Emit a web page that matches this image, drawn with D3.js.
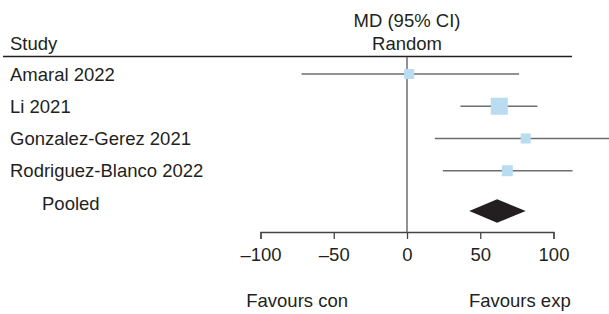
<!DOCTYPE html>
<html>
<head>
<meta charset="utf-8">
<script src="https://cdn.jsdelivr.net/npm/d3@7"></script>
<style>
  html, body { margin: 0; padding: 0; background: #fff; }
  svg { display: block; font-family: "Liberation Sans", Arial, sans-serif; }
</style>
</head>
<body>
<svg id="chart" width="609" height="314"></svg>
<script>
// ---- data ----
const studies = ["Amaral 2022", "Li 2021", "Gonzalez-Gerez 2021", "Rodriguez-Blanco 2022"];
const md      = [1.5, 63, 81, 68.5];
const ciLow   = [-72, 36.5, 19, 24.5];
const ciHigh  = [76.5, 89, 143, 113];
const weights = [10, 17, 10, 11];
const pooledLabel = "Pooled";
const pooled  = [61.5, 42.5, 81];   // estimate, low, high
const tickValues = [-100, -50, 0, 50, 100];
const tickLabels = ["\u2013100", "\u201350", "0", "50", "100"];
const favourLabels = ["Favours con", "Favours exp"];
const favourPos = [-75, 77];

// ---- layout ----
const svg = d3.select("#chart");
const ink = "#231f20";
const grey = "#6d6e71";
const fs = 18.5;

const x = d3.scaleLinear().domain([-100, 100]).range([260.5, 553.5]);
const rows = studies.concat([pooledLabel]);
const y = d3.scalePoint().domain(rows).range([74, 203]);
const sq = d3.scaleLinear().domain([0, 17]).range([0, 17]);

// header
svg.append("text").attr("x", 10).attr("y", 50).attr("font-size", fs).attr("fill", ink).text("Study");
svg.append("text").attr("x", x(0)).attr("y", 27).attr("text-anchor", "middle").attr("font-size", fs).attr("fill", ink).text("MD (95% CI)");
svg.append("text").attr("x", x(0)).attr("y", 50).attr("text-anchor", "middle").attr("font-size", fs).attr("fill", ink).text("Random");
svg.append("line").attr("x1", 3).attr("x2", 572).attr("y1", 56.5).attr("y2", 56.5).attr("stroke", ink).attr("stroke-width", 1.4);

// axis
const axisY = 232;
const axis = svg.append("g").attr("transform", `translate(0,${axisY})`)
  .call(d3.axisBottom(x).tickValues(tickValues).tickSize(7).tickPadding(9)
        .tickFormat((d, i) => tickLabels[i]));
axis.select(".domain").attr("stroke", "#444").attr("stroke-width", 1.3);
axis.selectAll(".tick line").attr("stroke", "#444").attr("stroke-width", 1.3);
axis.selectAll(".tick text").attr("font-size", fs).attr("fill", ink).attr("font-family", "Liberation Sans, Arial, sans-serif");

// zero line
svg.append("line").attr("x1", x(0)).attr("x2", x(0)).attr("y1", 57).attr("y2", axisY)
  .attr("stroke", grey).attr("stroke-width", 1.5);

// study labels
svg.selectAll("text.study").data(studies).enter().append("text")
  .attr("class", "study").attr("x", 10).attr("y", d => y(d) + 6.5)
  .attr("font-size", fs).attr("fill", ink).text(d => d);
svg.append("text").attr("x", 42).attr("y", y(pooledLabel) + 6.5)
  .attr("font-size", fs).attr("fill", ink).text(pooledLabel);

// CI lines
svg.selectAll("line.ci").data(studies).enter().append("line")
  .attr("class", "ci")
  .attr("x1", (d, i) => x(ciLow[i])).attr("x2", (d, i) => x(ciHigh[i]))
  .attr("y1", d => y(d)).attr("y2", d => y(d))
  .attr("stroke", grey).attr("stroke-width", 1.6);

// squares
svg.selectAll("rect.pt").data(studies).enter().append("rect")
  .attr("class", "pt")
  .attr("x", (d, i) => x(md[i]) - sq(weights[i]) / 2)
  .attr("y", (d, i) => y(d) - sq(weights[i]) / 2)
  .attr("width", (d, i) => sq(weights[i]))
  .attr("height", (d, i) => sq(weights[i]))
  .attr("fill", "#badcf1");

// pooled diamond
const py = y(pooledLabel) + 8;
const dh = 11.7;
svg.append("path")
  .attr("d", `M${x(pooled[1])},${py} L${x(pooled[0])},${py - dh} L${x(pooled[2])},${py} L${x(pooled[0])},${py + dh} Z`)
  .attr("fill", ink);

// favours labels
svg.selectAll("text.fav").data(favourLabels).enter().append("text")
  .attr("class", "fav").attr("x", (d, i) => x(favourPos[i])).attr("y", 307)
  .attr("text-anchor", "middle").attr("font-size", fs).attr("fill", ink).text(d => d);
</script>
</body>
</html>
